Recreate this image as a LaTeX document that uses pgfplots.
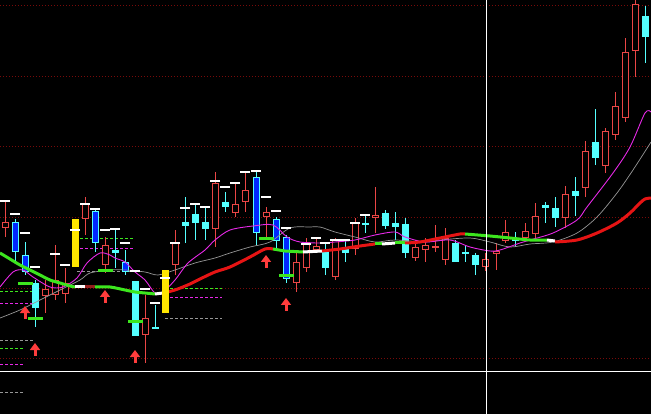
\documentclass[border=0pt]{standalone}
\usepackage{pgfplots}
\usepackage{pgfplotstable}
\pgfplotsset{compat=1.18}
\usetikzlibrary{arrows.meta}
\definecolor{upred}{RGB}{235,70,70}
\definecolor{dncyan}{RGB}{84,255,255}
\definecolor{dnblue}{RGB}{0,40,255}
\definecolor{ylw}{RGB}{255,230,0}
\definecolor{mag}{RGB}{230,40,230}
\definecolor{gry}{RGB}{150,150,150}
\definecolor{thgreen}{RGB}{60,230,30}
\definecolor{thred}{RGB}{230,20,20}
\definecolor{dred}{RGB}{150,30,30}
\definecolor{gridred}{RGB}{120,10,10}
\definecolor{arrred}{RGB}{255,60,60}

% candles: x, body top, body bottom, high, low (screen units, y downwards)
\pgfplotstableread{
x top bot hi lo
5 222 228 200 237
45 289 296 280 313
55 280 295 245 300
65 283 294 268 303
85 203 219 197 235
105 245 265 237 273
145 318 335 295 363
175 243 265 230 275
215 183 229 172 247
235 204 213 183 217
245 190 202 172 212
266 212 217 207 237
296 262 283 252 292
306 242 268 238 272
316 246 250 237 253
335 240 277 238 280
355 223 249 218 255
375 215 218 187 233
415 247 258 240 261
425 245 250 238 262
435 246 248 225 252
445 238 260 228 265
485 259 267 253 271
496 251 254 243 270
505 232 241 220 243
525 231 238 223 240
535 216 234 203 240
565 194 218 186 228
585 151 188 141 197
605 131 166 128 173
615 106 135 92 140
625 52 118 38 122
635 4 51 0 77
}\redC
\pgfplotstableread{
x top bot hi lo
35 283 308 280 327
115 250 253 228 268
135 281 336 281 336
155 327 329 305 329
185 222 226 197 243
195 214 223 205 240
205 222 229 208 240
225 202 207 192 212
325 251 268 243 275
345 249 253 240 262
365 223 225 214 233
385 213 226 210 229
395 223 227 212 240
405 224 253 218 258
455 243 262 240 262
465 252 254 246 262
475 255 265 253 275
515 239 241 232 247
545 205 208 202 223
555 208 218 197 227
575 191 196 177 216
595 142 158 109 165
645 16 37 6 63
}\cyanC
\pgfplotstableread{
x top bot hi lo
15 222 252 219 263
25 255 272 242 275
95 211 243 209 252
125 262 272 250 275
256 177 233 170 245
276 219 241 217 249
286 237 279 235 283
}\blueC
\pgfplotstableread{
x top bot
75 219 267
165 270 313
}\yelC

\pgfplotsset{
 cndl/.style 2 args={draw=none, mark=none, forget plot,
   error bars/.cd, y dir=both, y explicit, error mark=none,
   error bar style={draw=#2, line width=#1, line cap=butt}},
}

\begin{document}
\begin{tikzpicture}
\begin{axis}[
  width=651pt, height=414pt, scale only axis,
  xmin=0, xmax=651, ymin=0, ymax=414, y dir=reverse,
  axis line style={draw=none}, ticks=none,
  axis background/.style={fill=black},
  clip=true,
]
% dotted grid
\foreach \g in {5,76,146,217,288,358}{
  \edef\tmp{\noexpand\addplot[gridred, line width=0.8pt, dash pattern=on 1pt off 2pt, forget plot] coordinates {(0,\g) (651,\g)};}
  \tmp
}
% dashed support lines
\addplot[thgreen, line width=0.8pt, dash pattern=on 3pt off 2pt] coordinates {(0,291) (33,291)};
\addplot[mag, line width=0.8pt, dash pattern=on 3pt off 2pt] coordinates {(0,303) (33,303)};
\addplot[gry, line width=0.8pt, dash pattern=on 3pt off 2pt] coordinates {(0,340) (33,340)};
\addplot[thgreen, line width=0.8pt, dash pattern=on 3pt off 2pt] coordinates {(0,348) (23,348)};
\addplot[mag, line width=0.8pt, dash pattern=on 3pt off 2pt] coordinates {(0,364) (23,364)};
\addplot[gry, line width=0.8pt, dash pattern=on 3pt off 2pt] coordinates {(0,392) (23,392)};
\addplot[thgreen, line width=0.8pt, dash pattern=on 3pt off 2pt] coordinates {(75,238) (133,238)};
\addplot[mag, line width=0.8pt, dash pattern=on 3pt off 2pt] coordinates {(75,248) (133,248)};
\addplot[gry, line width=0.8pt, dash pattern=on 3pt off 2pt] coordinates {(77,271) (133,271)};
\addplot[thgreen, line width=0.8pt, dash pattern=on 3pt off 2pt] coordinates {(165,288) (222,288)};
\addplot[mag, line width=0.8pt, dash pattern=on 3pt off 2pt] coordinates {(165,297) (222,297)};
\addplot[gry, line width=0.8pt, dash pattern=on 3pt off 2pt] coordinates {(165,318) (222,318)};

% red (up) candles: wick, outline, hollow interior
\addplot[cndl={1pt}{upred}] table[x=x, y expr={(\thisrow{hi}+\thisrow{lo})/2}, y error expr={(\thisrow{lo}-\thisrow{hi})/2}] {\redC};
\addplot[cndl={7pt}{upred}] table[x=x, y expr={(\thisrow{top}+\thisrow{bot})/2}, y error expr={max((\thisrow{bot}-\thisrow{top})/2,0.5)}] {\redC};
\addplot[cndl={5pt}{black}] table[x=x, y expr={(\thisrow{top}+\thisrow{bot})/2}, y error expr={max((\thisrow{bot}-\thisrow{top})/2-1,0)}] {\redC};
% cyan (down) candles
\addplot[cndl={1pt}{dncyan}] table[x=x, y expr={(\thisrow{hi}+\thisrow{lo})/2}, y error expr={(\thisrow{lo}-\thisrow{hi})/2}] {\cyanC};
\addplot[cndl={7pt}{dncyan}] table[x=x, y expr={(\thisrow{top}+\thisrow{bot})/2}, y error expr={max((\thisrow{bot}-\thisrow{top})/2,0.5)}] {\cyanC};
% blue candles
\addplot[cndl={1pt}{dncyan}] table[x=x, y expr={(\thisrow{hi}+\thisrow{lo})/2}, y error expr={(\thisrow{lo}-\thisrow{hi})/2}] {\blueC};
\addplot[cndl={7pt}{dncyan}] table[x=x, y expr={(\thisrow{top}+\thisrow{bot})/2}, y error expr={(\thisrow{bot}-\thisrow{top})/2}] {\blueC};
\addplot[cndl={5pt}{dnblue}] table[x=x, y expr={(\thisrow{top}+\thisrow{bot})/2}, y error expr={max((\thisrow{bot}-\thisrow{top})/2-1,0)}] {\blueC};

% moving averages
\addplot[gry, line width=0.7pt, smooth] coordinates {(0,318) (20,310) (40,300) (60,290) (80,280) (90,273) (110,270) (125,270) (145,272) (158,275) (175,270) (195,263) (215,258) (230,253) (250,247) (270,242) (290,228) (310,227) (320,227) (335,232) (355,237) (375,242) (395,240) (425,242) (440,240) (470,238) (490,242) (510,247) (530,244) (553,242) (577,233) (597,217) (617,193) (633,170) (651,142)};
\addplot[mag, line width=0.9pt, smooth] coordinates {(0,287) (13,272) (23,270) (33,277) (50,287) (63,287) (77,278) (87,263) (100,253) (110,255) (115,258) (125,262) (135,272) (145,280) (155,293) (163,292) (175,280) (188,263) (205,250) (215,240) (230,230) (253,226) (273,225) (287,237) (300,242) (320,243) (335,242) (355,240) (375,235) (395,232) (405,237) (425,242) (450,240) (470,247) (490,251) (500,250) (520,243) (530,240) (553,233) (577,220) (587,207) (613,173) (630,147) (645,113) (651,112)};
% thick trend line, coloured by direction
\addplot[thgreen, line width=3pt, smooth] coordinates {(0,253) (10,259) (20,265) (30,270) (40,275) (50,280) (60,283) (70,286) (75,287)};
\addplot[white, line width=3pt] coordinates {(75,287) (85,287)};
\addplot[dred, line width=3pt] coordinates {(85,287) (95,287)};
\addplot[thgreen, line width=3pt, smooth] coordinates {(95,287) (110,287) (125,290) (135,292) (145,293) (155,294)};
\addplot[white, line width=3pt] coordinates {(155,294) (163,293)};
\addplot[thred, line width=3pt, smooth] coordinates {(163,293) (175,290) (190,284) (200,279) (215,272) (230,267) (250,257) (265,249) (273,249)};
\addplot[thgreen, line width=3pt] coordinates {(273,249) (285,251) (303,252)};
\addplot[white, line width=3pt] coordinates {(303,252) (322,251)};
\addplot[thred, line width=3pt, smooth] coordinates {(322,251) (340,249) (360,246) (375,244)};
\addplot[thgreen, line width=3pt] coordinates {(375,244) (382,244)};
\addplot[white, line width=3pt] coordinates {(382,244) (395,243)};
\addplot[thgreen, line width=3pt] coordinates {(395,243) (405,243)};
\addplot[thred, line width=3pt, smooth] coordinates {(405,243) (420,242) (440,238) (460,234) (465,234)};
\addplot[thgreen, line width=3pt, smooth] coordinates {(465,234) (490,236) (510,238) (530,240) (547,240)};
\addplot[white, line width=3pt] coordinates {(547,240) (555,241)};
\addplot[thred, line width=3pt, smooth] coordinates {(555,242) (577,240) (597,233) (617,223) (630,213) (640,203) (645,199) (651,198)};

% yellow bars
\addplot[cndl={7pt}{ylw}] table[x=x, y expr={(\thisrow{top}+\thisrow{bot})/2}, y error expr={(\thisrow{bot}-\thisrow{top})/2}] {\yelC};

% white marks above candles
\addplot[only marks, mark=-, mark size=5pt, mark options={white, line width=1.1pt}] coordinates {
(5,201) (15,214) (25,233) (35,267) (55,254) (65,265) (75,230) (85,204) (95,209) (105,230)
(115,229) (125,243) (135,271) (145,289) (155,303) (165,278) (175,243) (185,208) (195,204) (205,207)
(215,181) (225,187) (235,183) (245,172) (256,171) (266,197) (276,211) (286,228) (306,244) (316,238)
(325,243) (335,240) (345,240) (355,223) (365,215)};
% green signal marks
\addplot[only marks, mark=-, mark size=7.5pt, mark options={thgreen, line width=3pt}] coordinates {
(25,284) (35,318) (105,271) (135,321) (266,239) (286,276)};
% red arrows
\addplot[arrred, line width=3pt, -{Triangle[length=7pt,width=10pt]}, quiver={u=0, v=-13}] coordinates {
(25,319) (35,356) (105,303) (135,363) (266,268) (286,311)};

% cross-hair
\addplot[white, line width=1pt] coordinates {(0,371) (651,371)};
\addplot[white, line width=1pt] coordinates {(486,0) (486,414)};
\end{axis}
\end{tikzpicture}
\end{document}
